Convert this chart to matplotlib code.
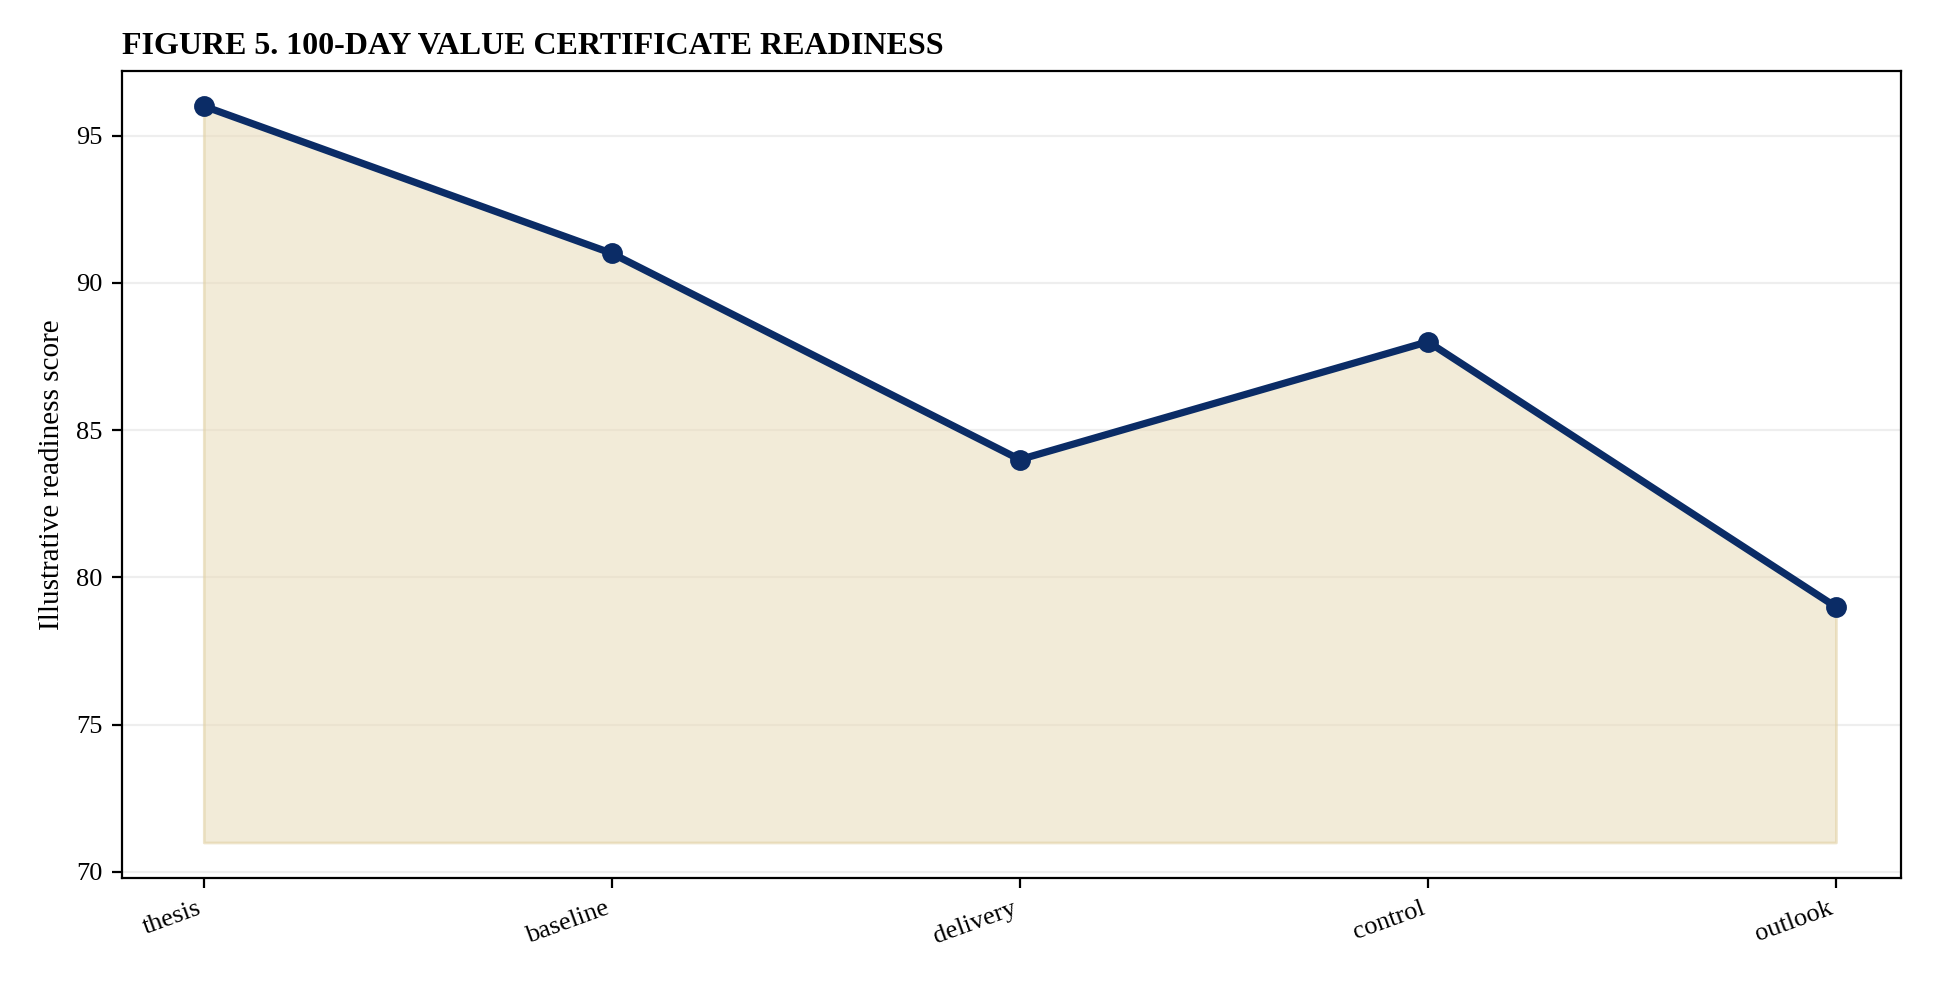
import matplotlib.pyplot as plt

plt.rcParams['font.family'] = ['Liberation Serif', 'DejaVu Serif']

stages = ['thesis', 'baseline', 'delivery', 'control', 'outlook']
scores = [96, 91, 84, 88, 79]
fill_base = 71

fig, ax = plt.subplots(figsize=(9.7, 4.915), dpi=200)
x = range(len(stages))
ax.fill_between(x, fill_base, scores, color='#e9dbb8', alpha=0.55, linewidth=1, edgecolor='#e0cfa0')
ax.plot(x, scores, 'o-', color='#0b2c66', linewidth=2.6, markersize=6.5)
ax.set_xticks(list(x))
ax.set_xticklabels(stages, rotation=20, ha='right', fontsize=9.5)
ax.set_xlim(-0.2, 4.16)
ax.set_ylim(69.8, 97.2)
ax.set_yticks([70, 75, 80, 85, 90, 95])
ax.tick_params(axis='y', labelsize=9.5)
ax.set_ylabel('Illustrative readiness score', fontsize=10.5)
ax.yaxis.grid(True, color='#eeeeee', linewidth=0.8)
ax.set_axisbelow(True)
ax.set_title('FIGURE 5. 100-DAY VALUE CERTIFICATE READINESS', loc='left', fontweight='bold', fontsize=11.5)
fig.subplots_adjust(left=0.063, right=0.98, top=0.928, bottom=0.107)
fig.savefig('out.png')
